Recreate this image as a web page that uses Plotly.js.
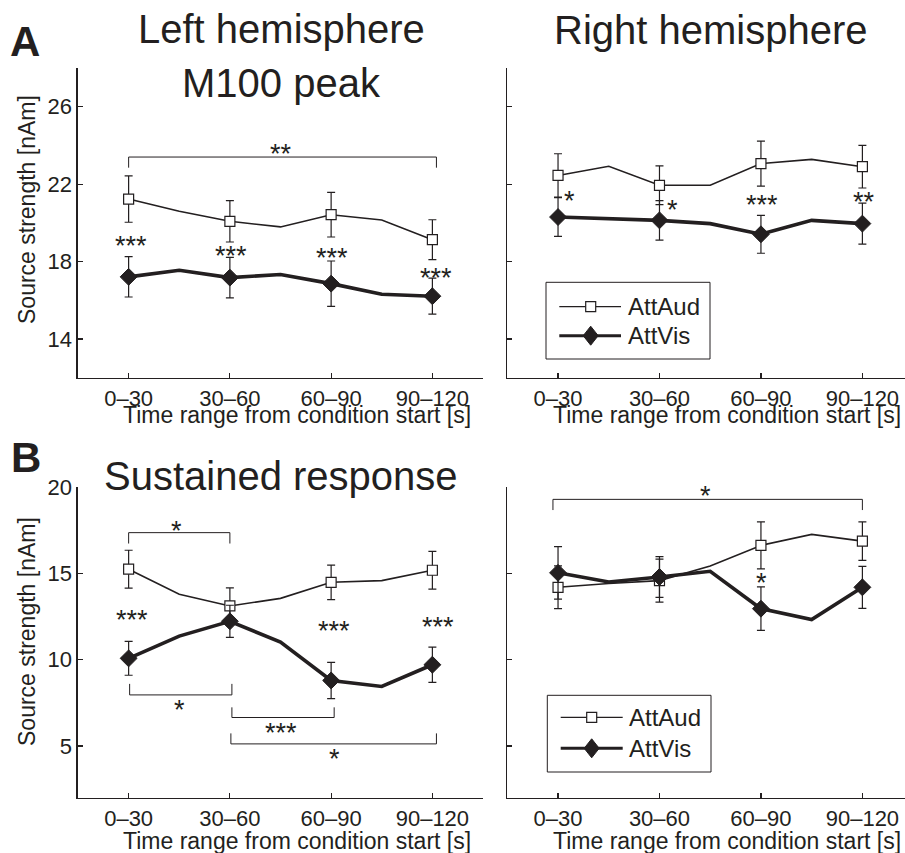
<!DOCTYPE html>
<html>
<head>
<meta charset="utf-8">
<script src="https://cdn.plot.ly/plotly-3.0.1.min.js"></script>
<style>html,body{margin:0;padding:0;background:#fff;}#chart{width:905px;height:853px;}</style>
</head>
<body>
<div id="chart"></div>
<script>
// ---- data ----
// x positions: 4 labelled windows plus intermediate overlapping windows
const xPos = [1, 1.5, 2, 2.5, 3, 3.5, 4];
const tickVals = [1, 2, 3, 4];
const tickLabels = ['0–30', '30–60', '60–90', '90–120'];
const seriesNames = ['AttAud', 'AttVis'];

// Panel A, left hemisphere (M100 peak)
const aLeftAud = [21.23, 20.6, 20.08, 19.79, 20.42, 20.15, 19.13];
const aLeftAudErr = [1.2, 1.07, 1.15, 1.03];
const aLeftVis = [17.21, 17.55, 17.17, 17.33, 16.86, 16.31, 16.21];
const aLeftVisErr = [1.04, 1.05, 1.17, 0.93];
// Panel A, right hemisphere
const aRightAud = [22.45, 22.92, 21.94, 21.94, 23.06, 23.28, 22.9];
const aRightAudErr = [1.12, 1.0, 1.16, 1.1];
const aRightVis = [20.3, 20.22, 20.13, 19.96, 19.41, 20.13, 19.96];
const aRightVisErr = [1.0, 1.02, 0.98, 1.06];
// Panel B, left hemisphere (sustained response)
const bLeftAud = [15.25, 13.8, 13.12, 13.56, 14.49, 14.59, 15.19];
const bLeftAudErr = [1.1, 1.05, 1.0, 1.1];
const bLeftVis = [10.08, 11.37, 12.23, 11.02, 8.8, 8.45, 9.71];
const bLeftVisErr = [0.98, 0.93, 1.05, 1.02];
// Panel B, right hemisphere
const bRightAud = [14.2, 14.42, 14.59, 15.44, 16.63, 17.27, 16.88];
const bRightAudErr = [1.24, 1.25, 1.36, 1.12];
const bRightVis = [15.04, 14.51, 14.8, 15.13, 12.96, 12.33, 14.2];
const bRightVisErr = [1.52, 1.18, 1.26, 1.22];

// significance brackets: [x0, x1, y, yEnd, label]
const bracketsA_L = [[1, 4.04, 23.4, 22.85]];
const bracketsB_L = [
  [1, 2, 17.37, 16.74],
  [1.01, 2.02, 7.96, 8.6],
  [2.02, 3.03, 6.65, 7.24],
  [2.01, 4.04, 5.12, 5.73]
];
const bracketsB_R = [[0.95, 4.0, 19.3, 18.68]];
// star labels: [x, y, text]
const starsA_L = [[2.5, 23.88, '**'], [1.02, 19.1, '***'], [2.01, 18.58, '***'], [3.01, 18.5, '***'], [4.04, 17.46, '***']];
const starsA_R = [[1.115, 21.42, '*'], [2.13, 20.96, '*'], [3.01, 21.25, '***'], [4.02, 21.37, '**']];
const starsB_L = [[1.47, 17.8, '*'], [1.5, 7.44, '*'], [2.5, 6.08, '***'], [3.03, 4.6, '*'], [1.03, 12.67, '***'], [3.03, 12.0, '***'], [4.06, 12.23, '***']];
const starsB_R = [[2.455, 19.84, '*'], [3.01, 14.8, '*']];

// ---- styling ----
const INK = '#231f20';
const FONT = 'Liberation Sans, Arial, Helvetica, sans-serif';

function expandErr(err) { // error bars only at labelled windows
  return xPos.map((x, i) => i % 2 === 0 ? err[i / 2] : NaN);
}
function markerColors(c) {
  return xPos.map((x, i) => i % 2 === 0 ? c : 'rgba(0,0,0,0)');
}
function audTrace(y, err, xa, ya) {
  return {
    x: xPos, y: y, xaxis: xa, yaxis: ya, name: seriesNames[0], type: 'scatter', mode: 'lines+markers',
    line: {color: INK, width: 1.6},
    marker: {symbol: 'square', size: 10, color: markerColors('#ffffff'), line: {color: markerColors(INK), width: 1.2}},
    error_y: {type: 'data', array: expandErr(err), visible: true, color: INK, thickness: 1.2, width: 4},
    showlegend: false, hoverinfo: 'none'
  };
}
function visTrace(y, err, xa, ya) {
  return {
    x: xPos, y: y, xaxis: xa, yaxis: ya, name: seriesNames[1], type: 'scatter', mode: 'lines+markers',
    line: {color: INK, width: 3.6},
    marker: {symbol: 'diamond', size: 13, color: markerColors(INK), line: {color: markerColors(INK), width: 1}},
    error_y: {type: 'data', array: expandErr(err), visible: true, color: INK, thickness: 1.2, width: 4},
    showlegend: false, hoverinfo: 'none'
  };
}

const traces = [
  audTrace(aLeftAud, aLeftAudErr, 'x', 'y'),
  visTrace(aLeftVis, aLeftVisErr, 'x', 'y'),
  audTrace(aRightAud, aRightAudErr, 'x2', 'y2'),
  visTrace(aRightVis, aRightVisErr, 'x2', 'y2'),
  audTrace(bLeftAud, bLeftAudErr, 'x3', 'y3'),
  visTrace(bLeftVis, bLeftVisErr, 'x3', 'y3'),
  audTrace(bRightAud, bRightAudErr, 'x4', 'y4'),
  visTrace(bRightVis, bRightVisErr, 'x4', 'y4')
];

const W = 905, H = 853;
const px = v => v / W;
const py = v => 1 - v / H;

function xAxis(domain, range, anchor) {
  return {
    domain: domain, range: range, anchor: anchor, tickmode: 'array', tickvals: tickVals, ticktext: tickLabels,
    ticks: 'inside', ticklen: 5, tickwidth: 1.2, tickcolor: INK, showline: true, linecolor: INK, linewidth: 1.6,
    showgrid: false, zeroline: false, tickfont: {family: FONT, size: 22, color: INK}, fixedrange: true
  };
}
function yAxis(domain, range, vals, anchor, labels) {
  return {
    domain: domain, range: range, anchor: anchor, tickmode: 'array', tickvals: vals, showticklabels: labels,
    ticks: 'inside', ticklen: 5, tickwidth: 1.2, tickcolor: INK, showline: true, linecolor: INK, linewidth: 1.6,
    showgrid: false, zeroline: false, tickfont: {family: FONT, size: 22, color: INK}, fixedrange: true
  };
}

const xL = [px(78), px(483)];
const xR = [px(507.3), 1];
const yT = [py(377.7), py(68)];
const yB = [py(797.7), py(487.3)];

const shapes = [];
const annotations = [];
function addBrackets(list, xr, yr) {
  list.forEach(b => {
    shapes.push({type: 'path', xref: xr, yref: yr,
      path: `M ${b[0]},${b[3]} L ${b[0]},${b[2]} L ${b[1]},${b[2]} L ${b[1]},${b[3]}`,
      line: {color: INK, width: 1}});
  });
}
function addStars(list, xr, yr) {
  list.forEach(s => {
    annotations.push({x: s[0], y: s[1], xref: xr, yref: yr, text: s[2], showarrow: false,
      xanchor: 'center', yanchor: 'middle', yshift: -6, font: {family: FONT, size: 27, color: INK}});
  });
}
addBrackets(bracketsA_L, 'x', 'y');
addBrackets(bracketsB_L, 'x3', 'y3');
addBrackets(bracketsB_R, 'x4', 'y4');
addStars(starsA_L, 'x', 'y');
addStars(starsA_R, 'x2', 'y2');
addStars(starsB_L, 'x3', 'y3');
addStars(starsB_R, 'x4', 'y4');

function paperText(x, y, text, size, extra) {
  annotations.push(Object.assign({x: px(x), y: py(y), xref: 'paper', yref: 'paper', text: text, showarrow: false,
    xanchor: 'center', yanchor: 'middle', font: {family: FONT, size: size, color: INK}}, extra || {}));
}
// titles
paperText(281, 29, 'Left hemisphere', 40);
paperText(281, 83, 'M100 peak', 40);
paperText(711, 30, 'Right hemisphere', 40);
paperText(281, 476, 'Sustained response', 40);
// panel letters
paperText(25, 42, '<b>A</b>', 42);
paperText(26, 457, '<b>B</b>', 42);
// axis titles
const xTitle = 'Time range from condition start [s]';
paperText(297, 415, xTitle, 23);
paperText(727, 415, xTitle, 23);
paperText(297, 841, xTitle, 23);
paperText(727, 841, xTitle, 23);
const yTitle = 'Source strength [nAm]';
paperText(27, 210, yTitle, 23, {textangle: -90});
paperText(27, 632, yTitle, 23, {textangle: -90});

// legend boxes (one per right-hand panel), drawn in pixel positions
function addLegend(x0, y0, x1, y1, lineX0, lineX1, markX, yAud, yVis, textX) {
  shapes.push({type: 'rect', xref: 'paper', yref: 'paper', x0: px(x0), x1: px(x1), y0: py(y0), y1: py(y1),
    line: {color: INK, width: 1}, fillcolor: '#ffffff', layer: 'above'});
  shapes.push({type: 'line', xref: 'paper', yref: 'paper', x0: px(lineX0), x1: px(lineX1), y0: py(yAud), y1: py(yAud),
    line: {color: INK, width: 1.3}, layer: 'above'});
  shapes.push({type: 'rect', xref: 'paper', yref: 'paper', x0: px(markX - 5), x1: px(markX + 5), y0: py(yAud - 5), y1: py(yAud + 5),
    line: {color: INK, width: 1.2}, fillcolor: '#ffffff', layer: 'above'});
  shapes.push({type: 'line', xref: 'paper', yref: 'paper', x0: px(lineX0), x1: px(lineX1), y0: py(yVis), y1: py(yVis),
    line: {color: INK, width: 3}, layer: 'above'});
  shapes.push({type: 'path', xref: 'paper', yref: 'paper',
    path: `M ${px(markX)},${py(yVis - 9.5)} L ${px(markX + 7.5)},${py(yVis)} L ${px(markX)},${py(yVis + 9.5)} L ${px(markX - 7.5)},${py(yVis)} Z`,
    line: {color: INK, width: 1}, fillcolor: INK, layer: 'above'});
  annotations.push({x: px(textX), y: py(yAud), xref: 'paper', yref: 'paper', text: seriesNames[0], showarrow: false,
    xanchor: 'left', yanchor: 'middle', font: {family: FONT, size: 24, color: INK}});
  annotations.push({x: px(textX), y: py(yVis), xref: 'paper', yref: 'paper', text: seriesNames[1], showarrow: false,
    xanchor: 'left', yanchor: 'middle', font: {family: FONT, size: 24, color: INK}});
}
addLegend(546, 282.3, 710, 359, 559.3, 621, 590.7, 306.7, 335.7, 626);
addLegend(547.3, 695.3, 711, 772, 560.7, 622.7, 591.7, 717.3, 748.3, 627);

const layout = {
  width: W, height: H, margin: {l: 0, r: 0, t: 0, b: 0},
  paper_bgcolor: '#ffffff', plot_bgcolor: '#ffffff', showlegend: false, hovermode: false,
  font: {family: FONT, color: INK},
  xaxis: xAxis(xL, [0.5, 4.5], 'y'),
  yaxis: yAxis(yT, [12, 28], [14, 18, 22, 26], 'x', true),
  xaxis2: xAxis(xR, [0.5, 4.42], 'y2'),
  yaxis2: yAxis(yT, [12, 28], [14, 18, 22, 26], 'x2', false),
  xaxis3: xAxis(xL, [0.5, 4.5], 'y3'),
  yaxis3: yAxis(yB, [2, 20], [5, 10, 15, 20], 'x3', true),
  xaxis4: xAxis(xR, [0.5, 4.42], 'y4'),
  yaxis4: yAxis(yB, [2, 20], [5, 10, 15, 20], 'x4', false),
  shapes: shapes,
  annotations: annotations
};

Plotly.newPlot('chart', traces, layout, {staticPlot: true, displayModeBar: false});
</script>
</body>
</html>
